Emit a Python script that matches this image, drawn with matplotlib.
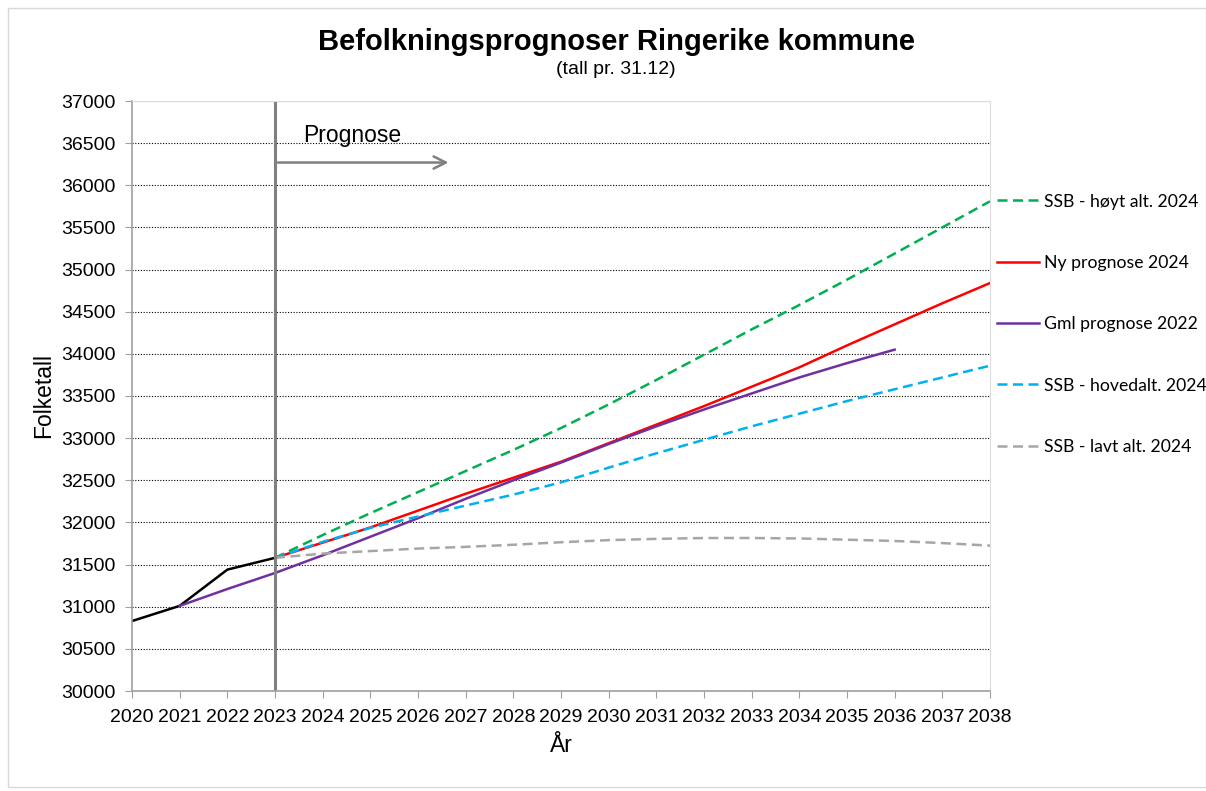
import matplotlib
matplotlib.use("Agg")
from matplotlib import pyplot as plt
from matplotlib.patches import Rectangle

plt.rcParams['font.family'] = ['Liberation Sans', 'DejaVu Sans']

# historical
hist_years = [2020, 2021, 2022, 2023]
hist_vals = [30830, 31010, 31440, 31580]

prog_years = list(range(2023, 2039))
hoyt = [31580, 31850, 32110, 32360, 32610, 32860, 33120, 33400, 33690,
        33990, 34290, 34580, 34880, 35190, 35500, 35810]
ny = [31580, 31760, 31940, 32140, 32340, 32530, 32720, 32940, 33160,
      33380, 33610, 33840, 34100, 34350, 34600, 34840]
hoved = [31580, 31770, 31935, 32070, 32200, 32330, 32475, 32650, 32820,
         32980, 33140, 33290, 33440, 33580, 33720, 33860]
lavt = [31580, 31630, 31660, 31690, 31710, 31735, 31765, 31790, 31805,
        31815, 31815, 31810, 31795, 31780, 31755, 31725]

gml_years = list(range(2021, 2037))
gml = [31010, 31210, 31400, 31610, 31830, 32050, 32280, 32500, 32710,
       32930, 33140, 33340, 33530, 33720, 33890, 34050]

fig = plt.figure(figsize=(12.06, 7.91), dpi=100)
ax = fig.add_axes([132/1206, 100/791, 858/1206, 590/791])

dash = (4, 2.2)
lw = 1.8
ax.plot(hist_years, hist_vals, color='black', lw=lw)
l1, = ax.plot(prog_years, hoyt, color='#00B050', lw=lw, dashes=dash, label='SSB - høyt alt. 2024')
l2, = ax.plot(prog_years, ny, color='#FF0000', lw=lw, label='Ny prognose 2024')
l3, = ax.plot(gml_years, gml, color='#7030A0', lw=lw, label='Gml prognose 2022')
l4, = ax.plot(prog_years, hoved, color='#00B0F0', lw=lw, dashes=dash, label='SSB - hovedalt. 2024')
l5, = ax.plot(prog_years, lavt, color='#A6A6A6', lw=lw, dashes=dash, label='SSB - lavt alt. 2024')

ax.axvline(2023, color='#808080', lw=2.2)
ax.annotate('', xy=(2026.7, 36270), xytext=(2023, 36270),
            arrowprops=dict(arrowstyle='->', color='#808080', lw=1.8, mutation_scale=22))
ax.text(2023.59, 36585, 'Prognose', fontsize=16.5, va='center')

ax.set_xlim(2020, 2038)
ax.set_ylim(30000, 37000)
ax.set_xticks(range(2020, 2039))
ax.set_yticks(range(30000, 37001, 500))
ax.tick_params(labelsize=14, color='#a0a0a0', length=5)
ax.tick_params(axis='x', pad=8)
ax.tick_params(axis='y', pad=7)
ax.grid(axis='y', color='black', linestyle=(0, (1, 1.5)), lw=0.8)
ax.set_axisbelow(True)
for s in ['left', 'bottom']:
    ax.spines[s].set_color('#a0a0a0')
    ax.spines[s].set_linewidth(1.2)
for s in ['top', 'right']:
    ax.spines[s].set_color('#dcdcdc')

ax.set_ylabel('Folketall', fontsize=16.5, labelpad=4)
ax.set_xlabel('År', fontsize=16.5, labelpad=6)

fig.text(0.511, 1 - 42/791, 'Befolkningsprognoser Ringerike kommune', ha='center', va='center',
         fontsize=21, fontweight='bold')
fig.text(0.511, 1 - 70/791, '(tall pr. 31.12)', ha='center', va='center', fontsize=14)

ax.legend(handles=[l1, l2, l3, l4, l5], loc='upper left', bbox_to_anchor=(1.0, 0.855),
          frameon=False, labelspacing=2.57, handlelength=2.4,
          handletextpad=0.28, borderaxespad=0.0,
          prop={'family': ['Lato', 'DejaVu Sans'], 'size': 12.7})

fig.patches.append(Rectangle((8/1206, 0.005), 1 - 8/1206, 1 - 2*0.005 - 8/791 + 0.005,
                             transform=fig.transFigure, fill=False, edgecolor='#d9d9d9', lw=1))

fig.savefig('out.png', dpi=100)
